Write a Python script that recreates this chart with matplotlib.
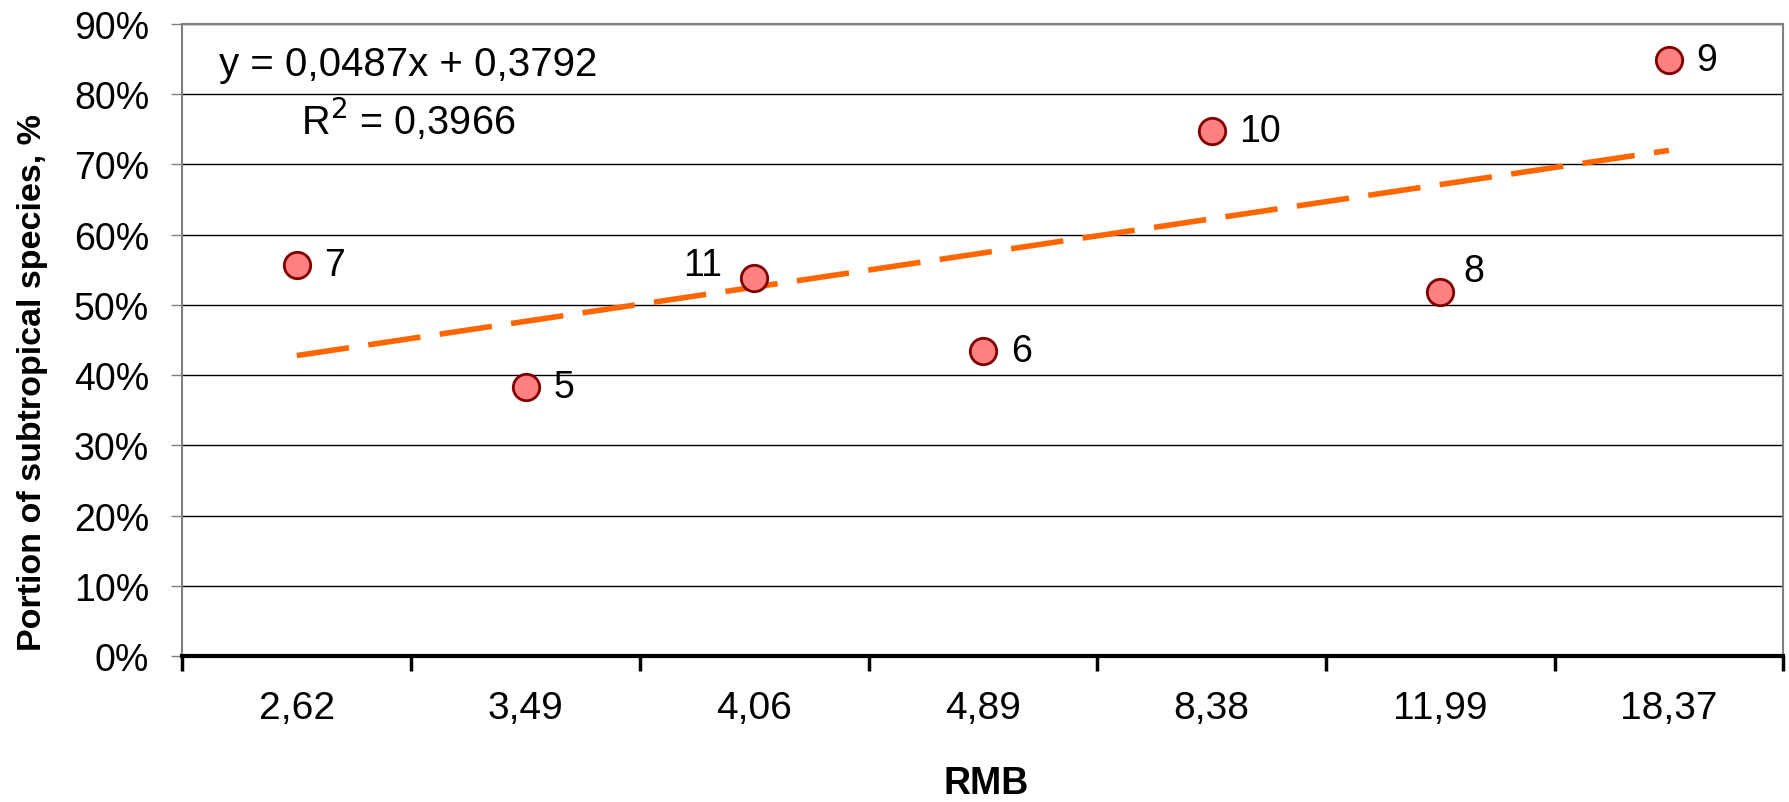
import numpy as np
import matplotlib
matplotlib.use("Agg")
import matplotlib.pyplot as plt
from matplotlib.ticker import MultipleLocator, FuncFormatter

plt.rcParams['font.family'] = ['Liberation Sans', 'DejaVu Sans']

# data
rmb_labels = ["2,62", "3,49", "4,06", "4,89", "8,38", "11,99", "18,37"]
portion    = [0.557, 0.383, 0.539, 0.435, 0.748, 0.518, 0.849]
point_ids  = ["7", "5", "11", "6", "10", "8", "9"]
slope, intercept, r2 = 0.0487, 0.3792, 0.3966

# label offsets (points) for each data label
label_off = [(20, 0), (20, 0), (-23, 9), (20, 0), (20, 0), (17, 15), (20, 0)]
label_ha  = ["left", "left", "right", "left", "left", "left", "left"]

x = np.arange(1, len(portion) + 1)

fig = plt.figure(figsize=(17.89, 8.03), dpi=100)
ax  = fig.add_axes([0.1020, 0.1818, 0.8948, 0.7870])

# gridlines
ax.set_ylim(0, 0.9)
ax.set_xlim(0.5, len(x) + 0.5)
ax.yaxis.set_major_locator(MultipleLocator(0.1))
ax.yaxis.set_major_formatter(FuncFormatter(lambda v, p: "%d%%" % round(v * 100)))
ax.grid(axis="y", color="black", linewidth=1.0, zorder=0)

# trend line
xt = np.array([x[0], x[-1]])
ax.plot(xt, slope * xt + intercept, color="#FF6600", linewidth=4.0,
        dashes=(9.5, 3.5), zorder=2)

# points
ax.plot(x, portion, linestyle="none", marker="o", markersize=19,
        markerfacecolor="#FF8080", markeredgecolor="#800000",
        markeredgewidth=2, zorder=3)

for xi, yi, lab, off, ha in zip(x, portion, point_ids, label_off, label_ha):
    ax.annotate(lab, (xi, yi), xytext=off, textcoords="offset points",
                ha=ha, va="center", fontsize=27, zorder=4)

ax.text(1.488, 0.843, "y = 0,0487x + 0,3792", ha="center", va="center", fontsize=29)
ax.text(1.488, 0.765, "R$^2$ = %s" % str(r2).replace(".", ","),
        ha="center", va="center", fontsize=28.5)

# x axis: labels at category centres, tick marks between categories
ax.set_xticks(x)
ax.set_xticklabels(rmb_labels)
ax.set_xticks(np.arange(0.5, len(x) + 1), minor=True)
ax.tick_params(axis="x", which="major", length=0, pad=24.5, labelsize=28)
ax.tick_params(axis="x", which="minor", length=11, width=2.5, color="black")
ax.tick_params(axis="y", which="major", length=8, width=1, color="#808080",
               pad=16, labelsize=27)

for side in ["top", "right", "left"]:
    ax.spines[side].set_color("#808080")
    ax.spines[side].set_linewidth(1.5)
ax.spines["bottom"].set_color("black")
ax.spines["bottom"].set_linewidth(3)

ax.set_xlabel("RMB", fontsize=27, fontweight="bold")
ax.xaxis.set_label_coords(0.502, -0.173)
ax.set_ylabel("Portion of subtropical species, %", fontsize=24.5, fontweight="bold")
ax.yaxis.set_label_coords(-0.084, 0.434)

fig.savefig("out.png", dpi=100)
